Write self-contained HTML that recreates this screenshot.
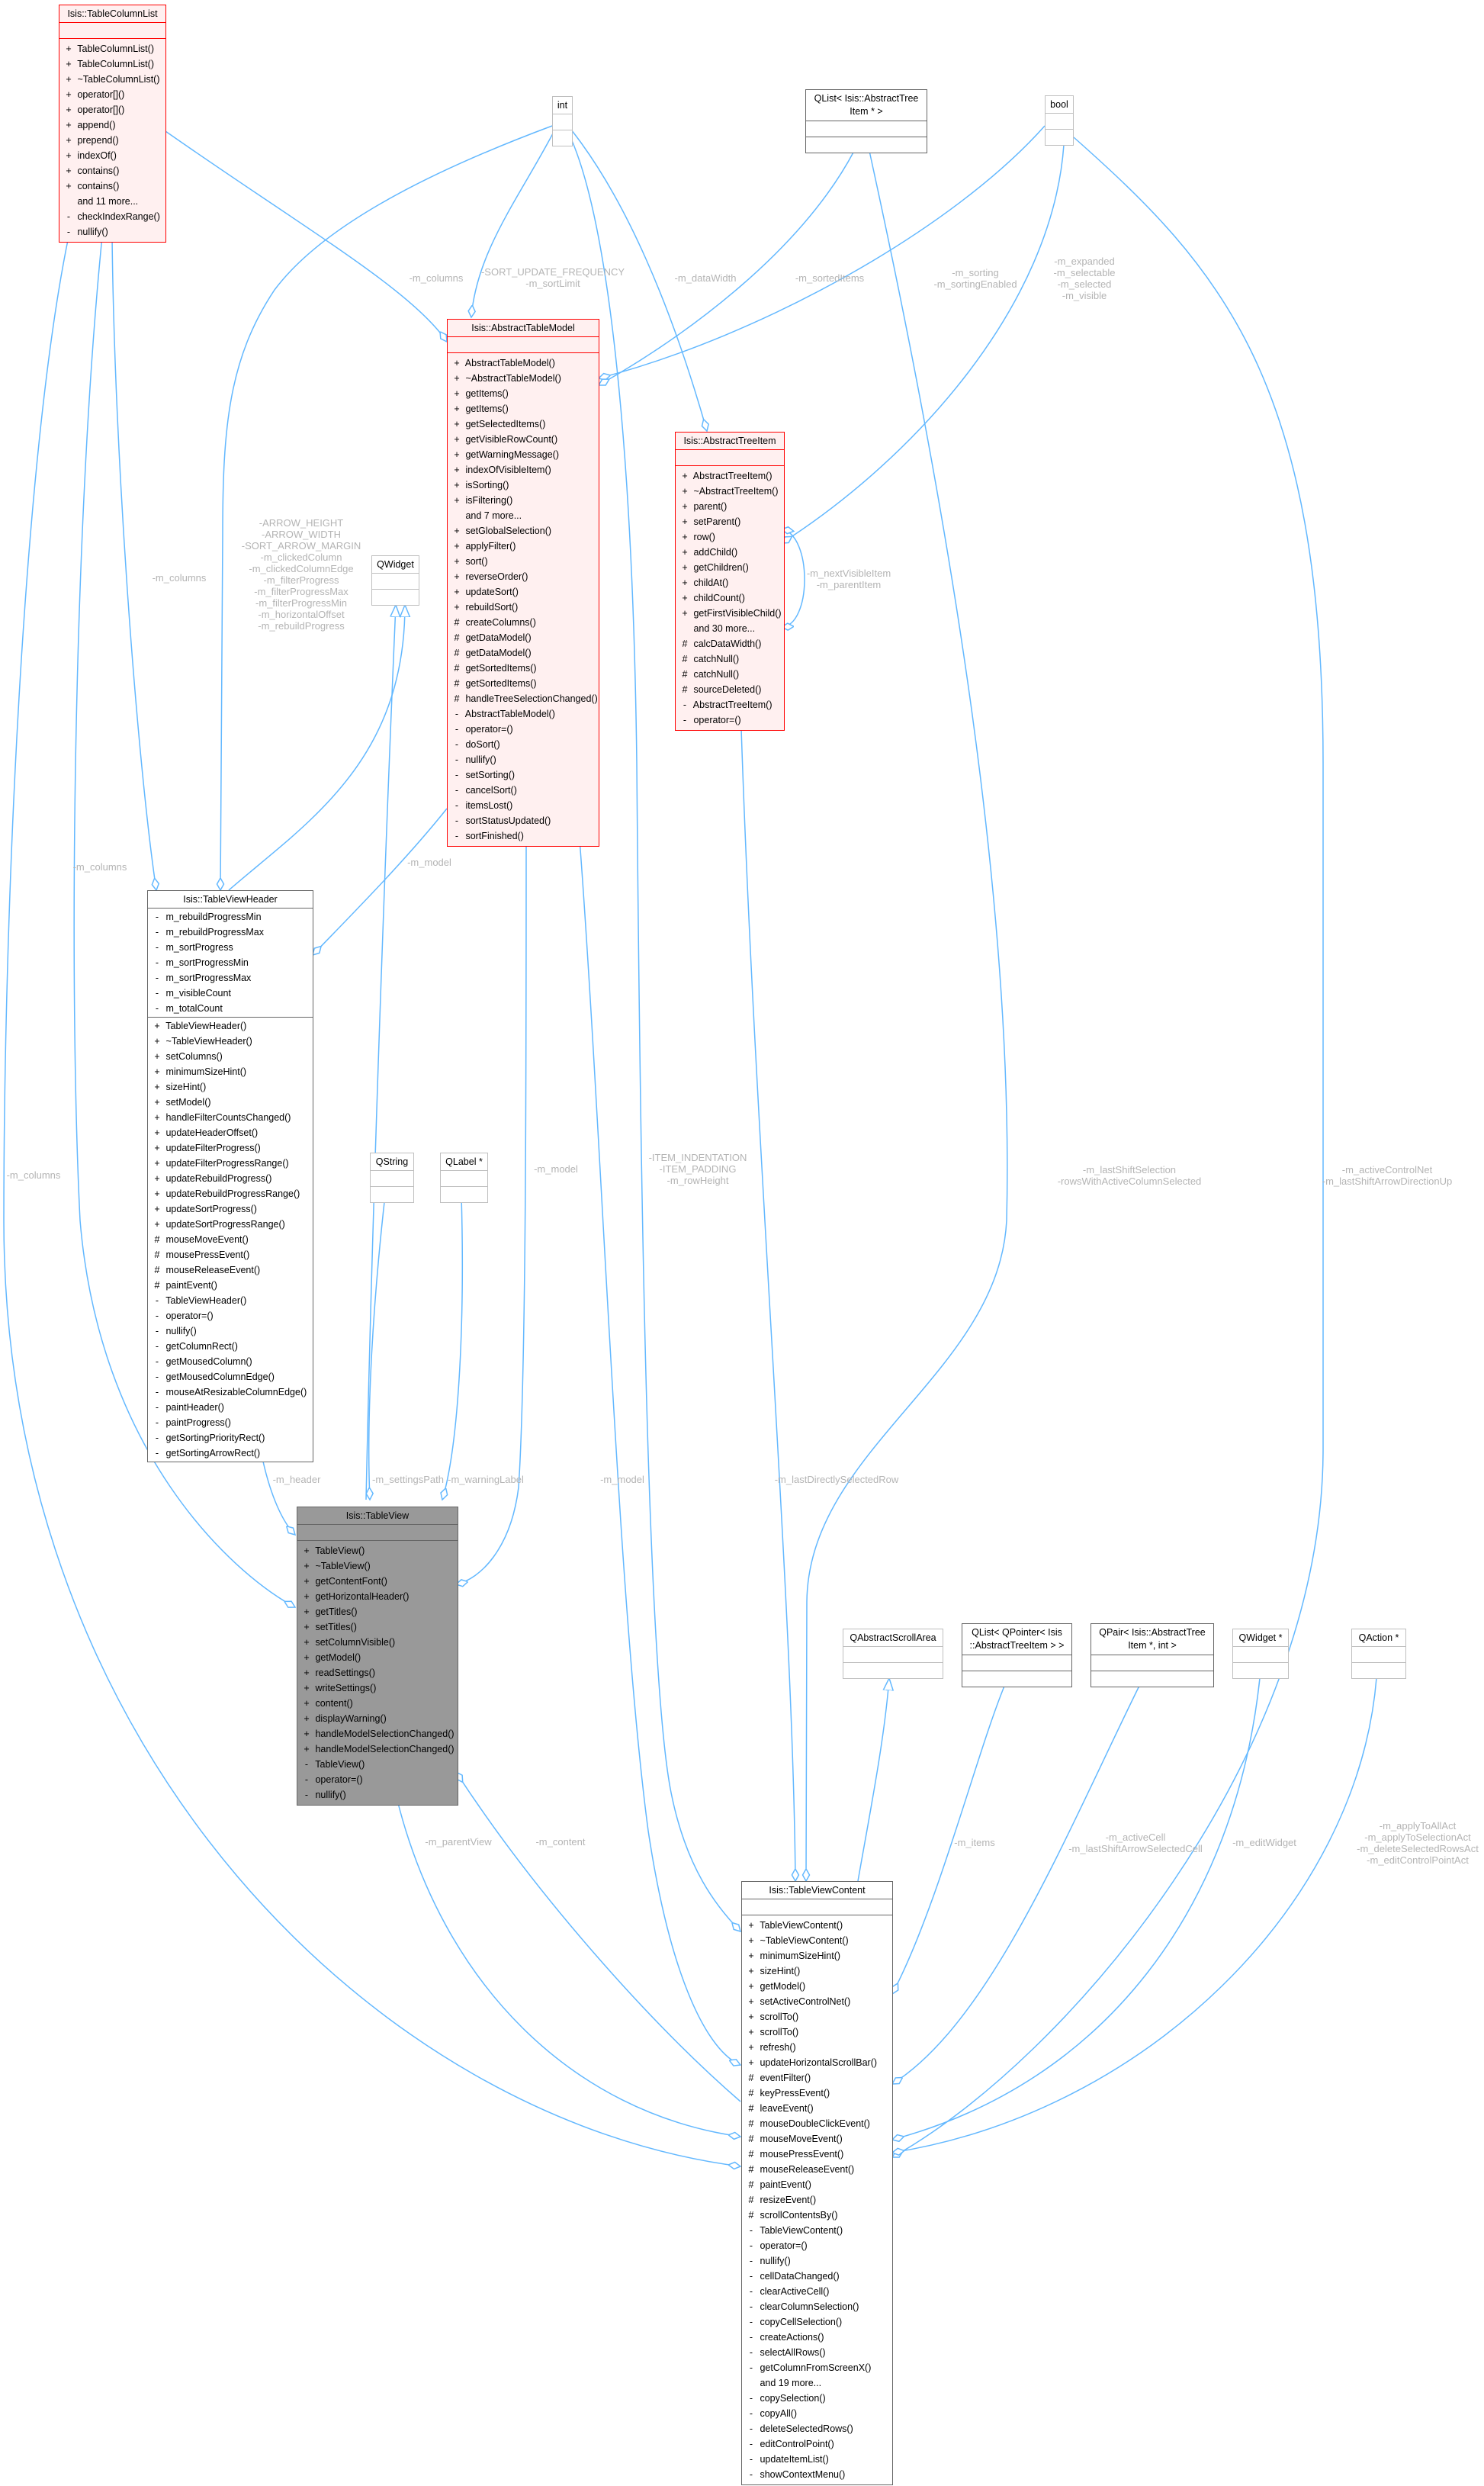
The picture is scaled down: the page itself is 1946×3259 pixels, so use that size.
<!DOCTYPE html>
<html><head><meta charset="utf-8">
<style>
html,body{margin:0;padding:0;background:#fff;}
body{width:1946px;height:3259px;position:relative;overflow:hidden;font-family:"Liberation Sans",Arial,sans-serif;font-size:12.5px;color:#000;}
svg{position:absolute;left:0;top:0;}
.b{position:absolute;border:1.5px solid #666;background:#fff;box-sizing:border-box;}
.red{border-color:#f00;background:#fff0f0;}
.red .s{border-top-color:#f00;}
.lg{border-color:#bfbfbf;}
.lg .s{border-top-color:#bfbfbf;}
.dk{background:#999;border-color:#666;}
.t{height:22px;line-height:22px;text-align:center;white-space:nowrap;}
.t2{padding:3px 0;line-height:17px;text-align:center;white-space:nowrap;}
.s{border-top:1.5px solid #666;}
.e{height:20px;}
.m{padding:3px 0;}
.r{height:20px;line-height:20px;white-space:nowrap;padding-left:4px;}
.r i{font-style:normal;display:inline-block;width:16px;text-align:center;}
.l{position:absolute;color:#b4b4b4;font-size:13px;text-align:center;white-space:nowrap;line-height:15px;transform:translateX(-50%);}
</style></head><body>
<svg width="1946" height="3259" viewBox="0 0 1946 3259">
<defs>
<marker id="d" markerUnits="userSpaceOnUse" markerWidth="20" markerHeight="12" refX="16" refY="6" orient="auto"><path d="M0,6 L8,1.5 L16,6 L8,10.5 Z" fill="#fff" stroke="#63b8ff" stroke-width="1.5"/></marker>
<marker id="ds" markerUnits="userSpaceOnUse" markerWidth="20" markerHeight="12" refX="0" refY="6" orient="auto"><path d="M0,6 L8,1.5 L16,6 L8,10.5 Z" fill="#fff" stroke="#63b8ff" stroke-width="1.5"/></marker>
<marker id="tr" markerUnits="userSpaceOnUse" markerWidth="20" markerHeight="16" refX="16" refY="8" orient="auto"><path d="M0,1.5 L16,8 L0,14.5 Z" fill="#fff" stroke="#63b8ff" stroke-width="1.5"/></marker>
</defs>
<g fill="none" stroke="#63b8ff" stroke-width="1.5">
<path d="M217,172 C400,300 540,380 586,448" marker-end="url(#d)"/>
<path d="M725,175 C680,260 625,330 618,416" marker-end="url(#d)"/>
<path d="M724,165 C550,230 420,300 360,380 C300,470 292,560 292,700 C292,900 289,1050 289,1167" marker-end="url(#d)"/>
<path d="M749,170 C820,260 880,400 927,565" marker-end="url(#d)"/>
<path d="M749,182 C800,300 830,600 835,1000 C840,1600 850,2200 880,2350 C900,2450 940,2500 971,2532" marker-end="url(#d)"/>
<path d="M147,310 C150,600 180,1000 205,1167" marker-end="url(#d)"/>
<path d="M134,310 C95,700 90,1300 105,1600 C130,1900 300,2060 387,2107" marker-end="url(#d)"/>
<path d="M90,310 C30,600 5,1200 5,1600 C5,2300 500,2780 971,2840" marker-end="url(#d)"/>
<path d="M345,1916 C355,1960 370,1995 387,2012" marker-end="url(#d)"/>
<path d="M300,1167 C400,1080 531,1000 531,793" marker-end="url(#tr)"/>
<path d="M480,1966 C490,1500 510,1000 519,793" marker-end="url(#tr)"/>
<path d="M586,1060 C530,1130 460,1200 410,1252" marker-end="url(#d)"/>
<path d="M690,1100 C690,1400 690,1800 680,1950 C670,2030 630,2070 598,2077" marker-end="url(#d)"/>
<path d="M505,1567 C490,1700 480,1850 485,1966" marker-end="url(#d)"/>
<path d="M605,1567 C610,1750 600,1900 580,1966" marker-end="url(#d)"/>
<path d="M971,2755 C850,2650 700,2480 598,2323" marker-end="url(#d)"/>
<path d="M520,2356 C580,2600 750,2770 971,2801" marker-end="url(#d)"/>
<path d="M760,1100 C790,1500 810,2100 850,2400 C880,2600 930,2690 971,2707" marker-end="url(#d)"/>
<path d="M972,955 C990,1500 1040,2100 1043,2466" marker-end="url(#d)"/>
<path d="M1140,198 C1250,700 1330,1200 1320,1600 C1310,1800 1060,1900 1058,2100 L1057,2466" marker-end="url(#d)"/>
<path d="M1408,180 C1600,350 1735,500 1735,1000 L1735,1900 C1735,2300 1400,2700 1170,2828" marker-end="url(#d)"/>
<path d="M1318,2208 C1280,2300 1230,2500 1170,2614" marker-end="url(#d)"/>
<path d="M1495,2208 C1400,2400 1300,2650 1170,2732" marker-end="url(#d)"/>
<path d="M1652,2200 C1620,2500 1450,2730 1170,2805" marker-end="url(#d)"/>
<path d="M1805,2200 C1780,2500 1500,2770 1170,2822" marker-end="url(#d)"/>
<path d="M1125,2466 C1140,2380 1160,2280 1166,2200" marker-end="url(#tr)"/>
<path d="M1370,165 C1250,300 1000,440 785,496" marker-end="url(#d)"/>
<path d="M1120,198 C1050,330 900,440 785,505" marker-end="url(#d)"/>
<path d="M1395,190 C1380,400 1200,600 1025,712" marker-end="url(#d)"/>
<path d="M1025,694 C1065,700 1065,820 1025,822" marker-start="url(#ds)" marker-end="url(#d)"/>
</g>
</svg>

<div class="b red" style="left:77px;top:6px;width:141px;">
<div class="t">Isis::TableColumnList</div><div class="s e"></div>
<div class="s m">
<div class="r"><i>+</i> TableColumnList()</div><div class="r"><i>+</i> TableColumnList()</div><div class="r"><i>+</i> ~TableColumnList()</div><div class="r"><i>+</i> operator[]()</div><div class="r"><i>+</i> operator[]()</div><div class="r"><i>+</i> append()</div><div class="r"><i>+</i> prepend()</div><div class="r"><i>+</i> indexOf()</div><div class="r"><i>+</i> contains()</div><div class="r"><i>+</i> contains()</div><div class="r"><i></i> and 11 more...</div><div class="r"><i>-</i> checkIndexRange()</div><div class="r"><i>-</i> nullify()</div>
</div></div>

<div class="b lg" style="left:724px;top:126px;width:27px;"><div class="t">int</div><div class="s e"></div><div class="s e"></div></div>
<div class="b" style="left:1056px;top:117px;width:160px;"><div class="t2">QList&lt; Isis::AbstractTree<br>Item * &gt;</div><div class="s e"></div><div class="s e"></div></div>
<div class="b lg" style="left:1370px;top:125px;width:38px;"><div class="t">bool</div><div class="s e"></div><div class="s e"></div></div>

<div class="b red" style="left:586px;top:418px;width:200px;">
<div class="t">Isis::AbstractTableModel</div><div class="s e"></div>
<div class="s m">
<div class="r"><i>+</i> AbstractTableModel()</div><div class="r"><i>+</i> ~AbstractTableModel()</div><div class="r"><i>+</i> getItems()</div><div class="r"><i>+</i> getItems()</div><div class="r"><i>+</i> getSelectedItems()</div><div class="r"><i>+</i> getVisibleRowCount()</div><div class="r"><i>+</i> getWarningMessage()</div><div class="r"><i>+</i> indexOfVisibleItem()</div><div class="r"><i>+</i> isSorting()</div><div class="r"><i>+</i> isFiltering()</div><div class="r"><i></i> and 7 more...</div><div class="r"><i>+</i> setGlobalSelection()</div><div class="r"><i>+</i> applyFilter()</div><div class="r"><i>+</i> sort()</div><div class="r"><i>+</i> reverseOrder()</div><div class="r"><i>+</i> updateSort()</div><div class="r"><i>+</i> rebuildSort()</div><div class="r"><i>#</i> createColumns()</div><div class="r"><i>#</i> getDataModel()</div><div class="r"><i>#</i> getDataModel()</div><div class="r"><i>#</i> getSortedItems()</div><div class="r"><i>#</i> getSortedItems()</div><div class="r"><i>#</i> handleTreeSelectionChanged()</div><div class="r"><i>-</i> AbstractTableModel()</div><div class="r"><i>-</i> operator=()</div><div class="r"><i>-</i> doSort()</div><div class="r"><i>-</i> nullify()</div><div class="r"><i>-</i> setSorting()</div><div class="r"><i>-</i> cancelSort()</div><div class="r"><i>-</i> itemsLost()</div><div class="r"><i>-</i> sortStatusUpdated()</div><div class="r"><i>-</i> sortFinished()</div>
</div></div>

<div class="b red" style="left:885px;top:566px;width:144px;">
<div class="t">Isis::AbstractTreeItem</div><div class="s e"></div>
<div class="s m">
<div class="r"><i>+</i> AbstractTreeItem()</div><div class="r"><i>+</i> ~AbstractTreeItem()</div><div class="r"><i>+</i> parent()</div><div class="r"><i>+</i> setParent()</div><div class="r"><i>+</i> row()</div><div class="r"><i>+</i> addChild()</div><div class="r"><i>+</i> getChildren()</div><div class="r"><i>+</i> childAt()</div><div class="r"><i>+</i> childCount()</div><div class="r"><i>+</i> getFirstVisibleChild()</div><div class="r"><i></i> and 30 more...</div><div class="r"><i>#</i> calcDataWidth()</div><div class="r"><i>#</i> catchNull()</div><div class="r"><i>#</i> catchNull()</div><div class="r"><i>#</i> sourceDeleted()</div><div class="r"><i>-</i> AbstractTreeItem()</div><div class="r"><i>-</i> operator=()</div>
</div></div>

<div class="b lg" style="left:487px;top:728px;width:63px;"><div class="t">QWidget</div><div class="s e"></div><div class="s e"></div></div>

<div class="b" style="left:193px;top:1167px;width:218px;">
<div class="t">Isis::TableViewHeader</div>
<div class="s" style="padding:1px 0;">
<div class="r"><i>-</i> m_rebuildProgressMin</div><div class="r"><i>-</i> m_rebuildProgressMax</div><div class="r"><i>-</i> m_sortProgress</div><div class="r"><i>-</i> m_sortProgressMin</div><div class="r"><i>-</i> m_sortProgressMax</div><div class="r"><i>-</i> m_visibleCount</div><div class="r"><i>-</i> m_totalCount</div>
</div>
<div class="s" style="padding:1px 0;">
<div class="r"><i>+</i> TableViewHeader()</div><div class="r"><i>+</i> ~TableViewHeader()</div><div class="r"><i>+</i> setColumns()</div><div class="r"><i>+</i> minimumSizeHint()</div><div class="r"><i>+</i> sizeHint()</div><div class="r"><i>+</i> setModel()</div><div class="r"><i>+</i> handleFilterCountsChanged()</div><div class="r"><i>+</i> updateHeaderOffset()</div><div class="r"><i>+</i> updateFilterProgress()</div><div class="r"><i>+</i> updateFilterProgressRange()</div><div class="r"><i>+</i> updateRebuildProgress()</div><div class="r"><i>+</i> updateRebuildProgressRange()</div><div class="r"><i>+</i> updateSortProgress()</div><div class="r"><i>+</i> updateSortProgressRange()</div><div class="r"><i>#</i> mouseMoveEvent()</div><div class="r"><i>#</i> mousePressEvent()</div><div class="r"><i>#</i> mouseReleaseEvent()</div><div class="r"><i>#</i> paintEvent()</div><div class="r"><i>-</i> TableViewHeader()</div><div class="r"><i>-</i> operator=()</div><div class="r"><i>-</i> nullify()</div><div class="r"><i>-</i> getColumnRect()</div><div class="r"><i>-</i> getMousedColumn()</div><div class="r"><i>-</i> getMousedColumnEdge()</div><div class="r"><i>-</i> mouseAtResizableColumnEdge()</div><div class="r"><i>-</i> paintHeader()</div><div class="r"><i>-</i> paintProgress()</div><div class="r"><i>-</i> getSortingPriorityRect()</div><div class="r"><i>-</i> getSortingArrowRect()</div>
</div></div>

<div class="b lg" style="left:485px;top:1511px;width:58px;"><div class="t">QString</div><div class="s e"></div><div class="s e"></div></div>
<div class="b lg" style="left:577px;top:1511px;width:63px;"><div class="t">QLabel *</div><div class="s e"></div><div class="s e"></div></div>

<div class="b dk" style="left:389px;top:1975px;width:212px;">
<div class="t">Isis::TableView</div><div class="s e"></div>
<div class="s m">
<div class="r"><i>+</i> TableView()</div><div class="r"><i>+</i> ~TableView()</div><div class="r"><i>+</i> getContentFont()</div><div class="r"><i>+</i> getHorizontalHeader()</div><div class="r"><i>+</i> getTitles()</div><div class="r"><i>+</i> setTitles()</div><div class="r"><i>+</i> setColumnVisible()</div><div class="r"><i>+</i> getModel()</div><div class="r"><i>+</i> readSettings()</div><div class="r"><i>+</i> writeSettings()</div><div class="r"><i>+</i> content()</div><div class="r"><i>+</i> displayWarning()</div><div class="r"><i>+</i> handleModelSelectionChanged()</div><div class="r"><i>+</i> handleModelSelectionChanged()</div><div class="r"><i>-</i> TableView()</div><div class="r"><i>-</i> operator=()</div><div class="r"><i>-</i> nullify()</div>
</div></div>

<div class="b lg" style="left:1105px;top:2135px;width:132px;"><div class="t">QAbstractScrollArea</div><div class="s e"></div><div class="s e"></div></div>
<div class="b" style="left:1261px;top:2128px;width:145px;"><div class="t2">QList&lt; QPointer&lt; Isis<br>::AbstractTreeItem &gt; &gt;</div><div class="s e"></div><div class="s e"></div></div>
<div class="b" style="left:1430px;top:2128px;width:162px;"><div class="t2">QPair&lt; Isis::AbstractTree<br>Item *, int &gt;</div><div class="s e"></div><div class="s e"></div></div>
<div class="b lg" style="left:1616px;top:2135px;width:74px;"><div class="t">QWidget *</div><div class="s e"></div><div class="s e"></div></div>
<div class="b lg" style="left:1772px;top:2135px;width:72px;"><div class="t">QAction *</div><div class="s e"></div><div class="s e"></div></div>

<div class="b" style="left:972px;top:2466px;width:199px;">
<div class="t">Isis::TableViewContent</div><div class="s e"></div>
<div class="s m">
<div class="r"><i>+</i> TableViewContent()</div><div class="r"><i>+</i> ~TableViewContent()</div><div class="r"><i>+</i> minimumSizeHint()</div><div class="r"><i>+</i> sizeHint()</div><div class="r"><i>+</i> getModel()</div><div class="r"><i>+</i> setActiveControlNet()</div><div class="r"><i>+</i> scrollTo()</div><div class="r"><i>+</i> scrollTo()</div><div class="r"><i>+</i> refresh()</div><div class="r"><i>+</i> updateHorizontalScrollBar()</div><div class="r"><i>#</i> eventFilter()</div><div class="r"><i>#</i> keyPressEvent()</div><div class="r"><i>#</i> leaveEvent()</div><div class="r"><i>#</i> mouseDoubleClickEvent()</div><div class="r"><i>#</i> mouseMoveEvent()</div><div class="r"><i>#</i> mousePressEvent()</div><div class="r"><i>#</i> mouseReleaseEvent()</div><div class="r"><i>#</i> paintEvent()</div><div class="r"><i>#</i> resizeEvent()</div><div class="r"><i>#</i> scrollContentsBy()</div><div class="r"><i>-</i> TableViewContent()</div><div class="r"><i>-</i> operator=()</div><div class="r"><i>-</i> nullify()</div><div class="r"><i>-</i> cellDataChanged()</div><div class="r"><i>-</i> clearActiveCell()</div><div class="r"><i>-</i> clearColumnSelection()</div><div class="r"><i>-</i> copyCellSelection()</div><div class="r"><i>-</i> createActions()</div><div class="r"><i>-</i> selectAllRows()</div><div class="r"><i>-</i> getColumnFromScreenX()</div><div class="r"><i></i> and 19 more...</div><div class="r"><i>-</i> copySelection()</div><div class="r"><i>-</i> copyAll()</div><div class="r"><i>-</i> deleteSelectedRows()</div><div class="r"><i>-</i> editControlPoint()</div><div class="r"><i>-</i> updateItemList()</div><div class="r"><i>-</i> showContextMenu()</div>
</div></div>

<div class="l" style="left:572px;top:357px;">-m_columns</div>
<div class="l" style="left:725px;top:349px;">-SORT_UPDATE_FREQUENCY<br>-m_sortLimit</div>
<div class="l" style="left:925px;top:357px;">-m_dataWidth</div>
<div class="l" style="left:1088px;top:357px;">-m_sortedItems</div>
<div class="l" style="left:1279px;top:350px;">-m_sorting<br>-m_sortingEnabled</div>
<div class="l" style="left:1422px;top:335px;">-m_expanded<br>-m_selectable<br>-m_selected<br>-m_visible</div>
<div class="l" style="left:1113px;top:744px;">-m_nextVisibleItem<br>-m_parentItem</div>
<div class="l" style="left:395px;top:678px;">-ARROW_HEIGHT<br>-ARROW_WIDTH<br>-SORT_ARROW_MARGIN<br>-m_clickedColumn<br>-m_clickedColumnEdge<br>-m_filterProgress<br>-m_filterProgressMax<br>-m_filterProgressMin<br>-m_horizontalOffset<br>-m_rebuildProgress</div>
<div class="l" style="left:235px;top:750px;">-m_columns</div>
<div class="l" style="left:563px;top:1123px;">-m_model</div>
<div class="l" style="left:131px;top:1129px;">-m_columns</div>
<div class="l" style="left:44px;top:1533px;">-m_columns</div>
<div class="l" style="left:729px;top:1525px;">-m_model</div>
<div class="l" style="left:915px;top:1510px;">-ITEM_INDENTATION<br>-ITEM_PADDING<br>-m_rowHeight</div>
<div class="l" style="left:1481px;top:1526px;">-m_lastShiftSelection<br>-rowsWithActiveColumnSelected</div>
<div class="l" style="left:1819px;top:1526px;">-m_activeControlNet<br>-m_lastShiftArrowDirectionUp</div>
<div class="l" style="left:389px;top:1932px;">-m_header</div>
<div class="l" style="left:535px;top:1932px;">-m_settingsPath</div>
<div class="l" style="left:637px;top:1932px;">-m_warningLabel</div>
<div class="l" style="left:816px;top:1932px;">-m_model</div>
<div class="l" style="left:1097px;top:1932px;">-m_lastDirectlySelectedRow</div>
<div class="l" style="left:601px;top:2407px;">-m_parentView</div>
<div class="l" style="left:735px;top:2407px;">-m_content</div>
<div class="l" style="left:1278px;top:2408px;">-m_items</div>
<div class="l" style="left:1489px;top:2401px;">-m_activeCell<br>-m_lastShiftArrowSelectedCell</div>
<div class="l" style="left:1658px;top:2408px;">-m_editWidget</div>
<div class="l" style="left:1859px;top:2386px;">-m_applyToAllAct<br>-m_applyToSelectionAct<br>-m_deleteSelectedRowsAct<br>-m_editControlPointAct</div>
</body></html>
